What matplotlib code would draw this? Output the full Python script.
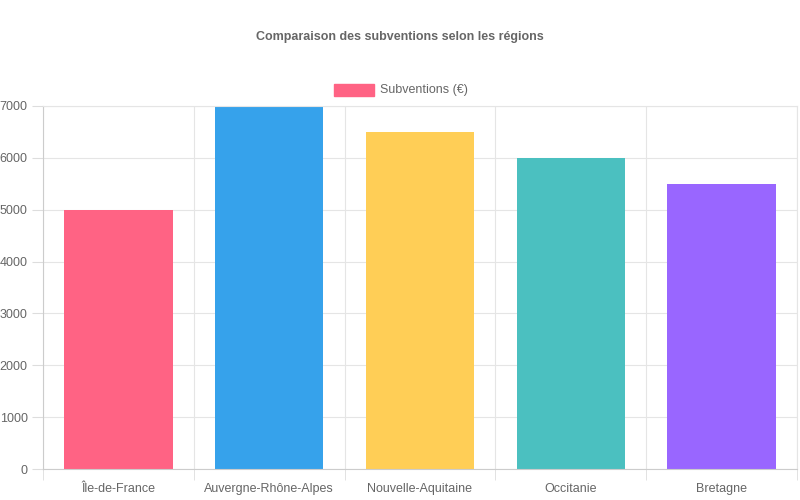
import matplotlib.pyplot as plt
import numpy as np

plt.rcParams['font.family'] = ['Liberation Sans', 'DejaVu Sans']

regions = ['Île-de-France', 'Auvergne-Rhône-Alpes', 'Nouvelle-Aquitaine', 'Occitanie', 'Bretagne']
subventions = [5000, 7000, 6500, 6000, 5500]
colors = ['#FF6384', '#36A2EB', '#FFCE56', '#4BC0C0', '#9966FF']

fig = plt.figure(figsize=(8, 5), dpi=100)
ax = fig.add_axes([43/800, 31/500, 754/800, 363/500])

x = np.arange(len(regions))
ax.bar(x, subventions, width=0.72, color=colors, zorder=2)

ax.set_xlim(-0.5, len(regions) - 0.5)
ax.set_ylim(0, 7000)
ax.set_yticks(range(0, 7001, 1000))
ax.set_xticks(x)
ax.set_xticklabels(regions)
ax.set_xticks(np.arange(-0.5, len(regions), 1), minor=True)
ax.tick_params(axis='x', which='major', length=0, pad=10, labelsize=9, labelcolor='#666666')
ax.tick_params(axis='x', which='minor', length=8, color='#dddddd')
ax.tick_params(axis='y', length=8, color='#dddddd', labelsize=9, labelcolor='#666666', pad=3)
ax.grid(True, which='minor', axis='x', color='#e5e5e5', lw=0.8, zorder=0)
ax.grid(True, which='major', axis='y', color='#e5e5e5', lw=0.8, zorder=0)
for s in ax.spines.values():
    s.set_color('#e5e5e5')
ax.spines['left'].set_color('#cccccc')
ax.spines['bottom'].set_color('#cccccc')

fig.text(0.5, 1 - 37/500, 'Comparaison des subventions selon les régions',
         ha='center', va='center', fontsize=9, fontweight='bold', color='#666666')
fig.patches.append(plt.Rectangle((334/800, 1 - 96/500), 40/800, 12/500,
                                 transform=fig.transFigure, color=colors[0]))
fig.text(380/800, 1 - 90/500, 'Subventions (€)', ha='left', va='center',
         fontsize=9, color='#666666')

fig.savefig('out.png', dpi=100)
